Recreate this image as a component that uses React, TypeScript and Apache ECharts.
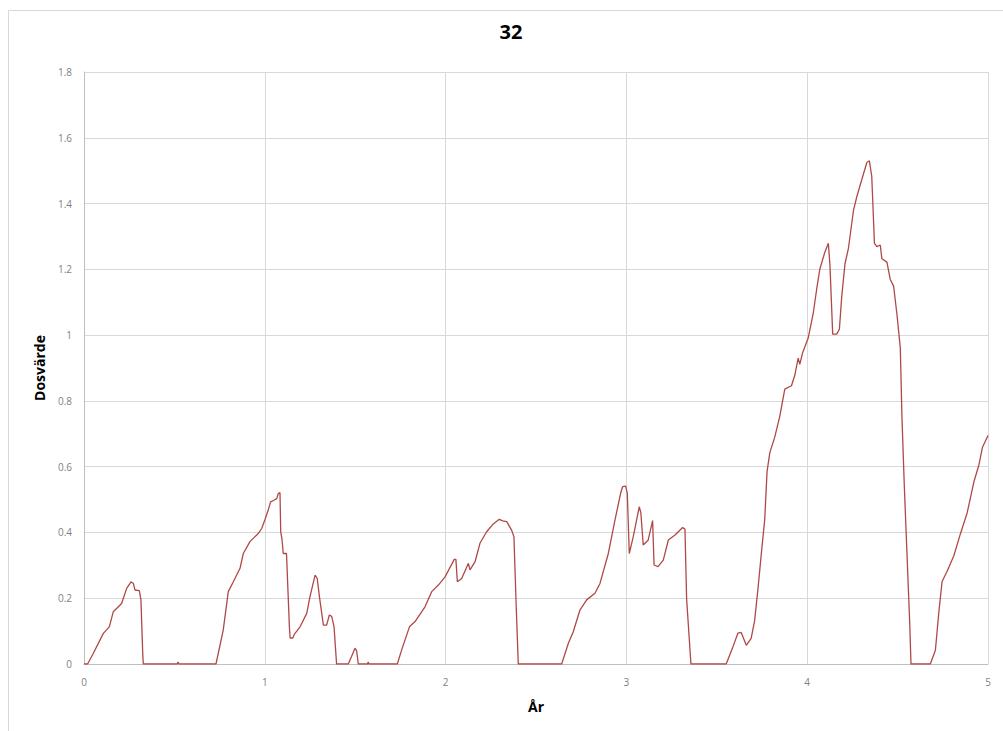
import React, { useEffect, useRef } from "react";
import * as echarts from "echarts";

const title = "32";
const xName = "År";
const yName = "Dosvärde";

const years = [
  0, 0.02, 0.051, 0.107, 0.14, 0.162, 0.208, 0.236, 0.26, 0.273, 0.282, 0.306, 0.315, 0.325, 0.328,
  0.515, 0.52, 0.525, 0.73, 0.77, 0.798, 0.826, 0.863, 0.881, 0.918, 0.964, 0.983, 1.0, 1.019, 1.032,
  1.05, 1.066, 1.075, 1.084, 1.088, 1.095, 1.102, 1.12, 1.136, 1.14, 1.155, 1.163, 1.195, 1.232, 1.25,
  1.278, 1.29, 1.302, 1.324, 1.342, 1.357, 1.37, 1.383, 1.397, 1.462, 1.499, 1.508, 1.517, 1.568, 1.572,
  1.576, 1.733, 1.757, 1.8, 1.831, 1.886, 1.923, 1.96, 1.997, 2.048, 2.057, 2.065, 2.089, 2.126, 2.135,
  2.163, 2.19, 2.227, 2.264, 2.297, 2.316, 2.338, 2.365, 2.378, 2.39, 2.402, 2.642, 2.679, 2.706, 2.743,
  2.78, 2.826, 2.854, 2.9, 2.937, 2.968, 2.979, 2.996, 3.005, 3.016, 3.038, 3.071, 3.08, 3.093, 3.12,
  3.145, 3.153, 3.175, 3.204, 3.232, 3.269, 3.311, 3.324, 3.333, 3.357, 3.552, 3.589, 3.617, 3.635, 3.663,
  3.69, 3.709, 3.728, 3.746, 3.765, 3.778, 3.793, 3.82, 3.848, 3.876, 3.913, 3.931, 3.95, 3.959, 3.974,
  4.006, 4.033, 4.052, 4.07, 4.098, 4.117, 4.126, 4.141, 4.163, 4.178, 4.191, 4.209, 4.228, 4.256, 4.274,
  4.302, 4.33, 4.344, 4.357, 4.372, 4.385, 4.404, 4.413, 4.441, 4.459, 4.478, 4.496, 4.515, 4.524, 4.537,
  4.552, 4.567, 4.574, 4.681, 4.709, 4.728, 4.746, 4.774, 4.811, 4.848, 4.885, 4.922, 4.95, 4.969, 5.0,
];

const doses = [
  0, 0, 0.032, 0.093, 0.113, 0.159, 0.184, 0.23, 0.25, 0.245, 0.225, 0.223, 0.195, 0.03, 0,
  0, 0.006, 0, 0, 0.103, 0.22, 0.25, 0.291, 0.336, 0.372, 0.397, 0.412, 0.438, 0.468, 0.493,
  0.498, 0.503, 0.519, 0.521, 0.402, 0.38, 0.336, 0.336, 0.113, 0.079, 0.079, 0.09, 0.113, 0.154, 0.205,
  0.27, 0.26, 0.205, 0.118, 0.118, 0.149, 0.145, 0.113, 0, 0, 0.048, 0.04, 0, 0, 0.006,
  0, 0, 0.043, 0.113, 0.129, 0.174, 0.22, 0.24, 0.265, 0.318, 0.318, 0.25, 0.26, 0.306, 0.286,
  0.311, 0.367, 0.402, 0.426, 0.44, 0.435, 0.433, 0.407, 0.387, 0.184, 0, 0, 0.063, 0.098, 0.164,
  0.195, 0.215, 0.245, 0.336, 0.438, 0.519, 0.539, 0.541, 0.519, 0.336, 0.387, 0.478, 0.46, 0.362, 0.376,
  0.436, 0.301, 0.296, 0.316, 0.377, 0.392, 0.415, 0.41, 0.198, 0, 0, 0.052, 0.094, 0.096, 0.057,
  0.078, 0.131, 0.23, 0.334, 0.439, 0.585, 0.642, 0.689, 0.752, 0.836, 0.846, 0.877, 0.93, 0.911, 0.945,
  0.992, 1.065, 1.138, 1.201, 1.253, 1.279, 1.211, 1.003, 1.003, 1.018, 1.117, 1.217, 1.264, 1.379, 1.42,
  1.473, 1.525, 1.53, 1.483, 1.279, 1.269, 1.274, 1.232, 1.222, 1.17, 1.149, 1.065, 0.961, 0.752, 0.543,
  0.334, 0.125, 0, 0, 0.042, 0.157, 0.251, 0.282, 0.329, 0.397, 0.46, 0.554, 0.606, 0.658, 0.695,
];

const seriesData = years.map((x, i) => [x, doses[i]]);

export default function App() {
  const ref = useRef<HTMLDivElement>(null);
  useEffect(() => {
    if (!ref.current) return;
    const chart = echarts.init(ref.current, null, { renderer: "svg" });
    const labelFont = { color: "#7f7f7f", fontSize: 10, fontFamily: "Open Sans" };
    chart.setOption({
      animation: false,
      backgroundColor: "#ffffff",
      title: {
        text: title,
        left: 506,
        top: 16,
        textAlign: "center",
        textStyle: { fontFamily: "Open Sans", fontWeight: "bold", fontSize: 20, color: "#000" },
      },
      graphic: [
        {
          type: "rect",
          shape: { x: 8.5, y: 10.5, width: 1000, height: 730 },
          style: { fill: "none", stroke: "#d9d9d9", lineWidth: 1 },
          silent: true,
        },
      ],
      grid: { left: 84, right: 15, top: 72, bottom: 67 },
      xAxis: {
        type: "value",
        min: 0,
        max: 5,
        interval: 1,
        name: xName,
        nameLocation: "middle",
        nameGap: 35,
        nameTextStyle: { fontFamily: "Open Sans", fontWeight: "bold", fontSize: 14, color: "#000" },
        axisLine: { show: true, lineStyle: { color: "#bfbfbf" } },
        axisTick: { show: false },
        axisLabel: { ...labelFont, margin: 13 },
        splitLine: { show: true, lineStyle: { color: "#d9d9d9" } },
      },
      yAxis: {
        type: "value",
        min: 0,
        max: 1.8,
        interval: 0.2,
        name: yName,
        nameLocation: "middle",
        nameGap: 38,
        nameTextStyle: { fontFamily: "Open Sans", fontWeight: "bold", fontSize: 14, color: "#000" },
        axisLine: { show: true, lineStyle: { color: "#bfbfbf" } },
        axisTick: { show: false },
        axisLabel: { ...labelFont, margin: 12 },
        splitLine: { show: true, lineStyle: { color: "#d9d9d9" } },
      },
      series: [
        {
          type: "line",
          data: seriesData,
          showSymbol: false,
          symbol: "none",
          lineStyle: { color: "#b04848", width: 1.3 },
        },
      ],
    });
    return () => chart.dispose();
  }, []);
  return (
    <div
      ref={ref}
      style={{ position: "fixed", left: 0, top: 0, width: 1003, height: 731 }}
    />
  );
}
